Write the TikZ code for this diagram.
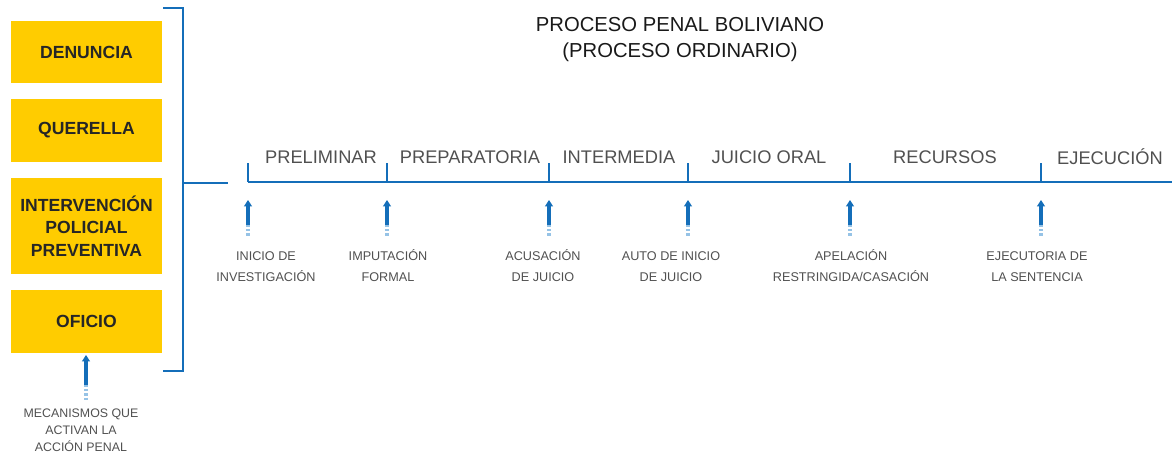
\documentclass[tikz,border=0pt]{standalone}
\usepackage{fontspec}
\setmainfont{Liberation Sans}
\usetikzlibrary{arrows.meta}

\definecolor{boxyellow}{RGB}{255,204,0}
\definecolor{lineblue}{RGB}{20,110,185}
\definecolor{paleblue}{RGB}{150,195,230}
\definecolor{labelgray}{RGB}{80,80,80}

\tikzset{
    mech/.style={fill=boxyellow, minimum width=3.775cm, align=center,
        font=\fontsize{12.5}{16}\selectfont\bfseries, text=black!85, inner sep=0pt},
    phase/.style={font=\fontsize{13}{14}\selectfont, text=labelgray},
    evt/.style={font=\fontsize{9}{15}\selectfont, text=labelgray, align=center, anchor=base},
    upar/.style={lineblue, line width=2.4pt, -{Triangle[length=4.5pt 0, width=5.5pt 0]}},
    fade/.style={paleblue, line width=2.4pt, dash pattern=on 1.6pt off 1.4pt}
}

\begin{document}
\begin{tikzpicture}[x=0.025cm, y=-0.025cm]
    \useasboundingbox (0,0) rectangle (1172,457);

    % title
    \node[align=center, font=\fontsize{14.4}{18.5}\selectfont, text=black!90] (title) at (680,40)
        {PROCESO PENAL BOLIVIANO\\(PROCESO ORDINARIO)};

    % mechanisms
    \node[mech, minimum height=1.55cm]  (denuncia)  at (86.5,52)    {DENUNCIA};
    \node[mech, minimum height=1.575cm] (querella)  at (86.5,130.5) {QUERELLA};
    \node[mech, minimum height=2.375cm] (policial)  at (86.5,226)   {INTERVENCIÓN\\POLICIAL\\PREVENTIVA};
    \node[mech, minimum height=1.575cm] (oficio)    at (86.5,321.5) {OFICIO};

    % bracket
    \coordinate (brtop) at (163,8);
    \coordinate (brbot) at (163,371);
    \coordinate (brmid) at (183,183);
    \coordinate (brend) at (228,183);
    \draw[lineblue, line width=1.9pt] (brtop) -| (brmid |- brbot) -- (brbot);
    \draw[lineblue, line width=1.5pt] (brmid) -- (brend);

    % arrow under the boxes
    \coordinate (mtip) at (86,355);
    \coordinate (mtail) at (86,385);
    \coordinate (mfade) at (86,400);
    \draw[upar] (mtail) -- (mtip);
    \draw[fade] (mtail) -- (mfade);
    \node[font=\fontsize{8.8}{12}\selectfont, text=labelgray, align=center] (mecanismos) at (81,430)
        {MECANISMOS QUE\\ACTIVAN LA\\ACCIÓN PENAL};

    % timeline
    \coordinate (tstart) at (248,182);
    \coordinate (tend) at (1172,182);
    \draw[lineblue, line width=1.5pt] (tstart) -- (tend);
    \foreach \x in {248, 387, 549, 688, 850, 1041} {
        \draw[lineblue, line width=1pt] (\x,182) -- (\x,163);
        \draw[upar] (\x,225) -- (\x,200);
        \draw[fade] (\x,225) -- (\x,236);
    }

    % phases
    \node[phase] (preliminar)   at (321,157)  {PRELIMINAR};
    \node[phase] (preparatoria) at (470,157)  {PREPARATORIA};
    \node[phase] (intermedia)   at (619,157)  {INTERMEDIA};
    \node[phase] (juicio)       at (769,157)  {JUICIO ORAL};
    \node[phase] (recursos)     at (945,157)  {RECURSOS};
    \node[phase] (ejecucion)    at (1110,157) {EJECUCIÓN};

    % events
    \node[evt] (inicio)     at (266,282)  {INICIO DE\\INVESTIGACIÓN};
    \node[evt] (imputacion) at (388,282)  {IMPUTACIÓN\\FORMAL};
    \node[evt] (acusacion)  at (543,282)  {ACUSACIÓN\\DE JUICIO};
    \node[evt] (auto)       at (671,282)  {AUTO DE INICIO\\DE JUICIO};
    \node[evt] (apelacion)  at (851,282)  {APELACIÓN\\RESTRINGIDA/CASACIÓN};
    \node[evt] (ejecutoria) at (1037,282) {EJECUTORIA DE\\LA SENTENCIA};

\end{tikzpicture}
\end{document}
